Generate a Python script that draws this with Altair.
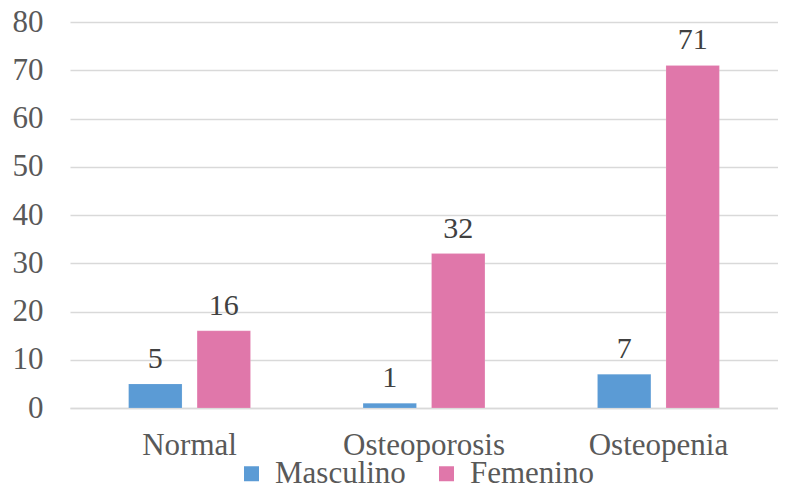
import altair as alt
import pandas as pd

categories = ["Normal", "Osteoporosis", "Osteopenia"]
series = ["Masculino", "Femenino"]
masculino = [5, 1, 7]
femenino = [16, 32, 71]
colors = ["#5B9BD5", "#E077AA"]

rows = []
for i, c in enumerate(categories):
    rows.append({"cat": c, "sexo": "Masculino", "val": masculino[i]})
    rows.append({"cat": c, "sexo": "Femenino", "val": femenino[i]})
df = pd.DataFrame(rows)

FONT = "Liberation Serif"

x = alt.X("cat:N", sort=categories, title=None,
          scale=alt.Scale(paddingInner=0.48, paddingOuter=0.25),
          axis=alt.Axis(labelAngle=0, labelFont=FONT, labelFontSize=31, labelColor="#595959",
                        domainColor="#D9D9D9", domainWidth=1.5, ticks=False, labelPadding=22))
xo = alt.XOffset("sexo:N", sort=series, scale=alt.Scale(paddingInner=0.22))

base = alt.Chart(df).encode(x=x, xOffset=xo)

bars = base.mark_bar(stroke="white", strokeOpacity=0.3, strokeWidth=0.5).encode(
    y=alt.Y("val:Q", title=None,
            scale=alt.Scale(domain=[0, 80]),
            axis=alt.Axis(values=list(range(0, 81, 10)), labelFont=FONT, labelFontSize=31,
                          labelColor="#595959", domain=False, ticks=False, labelPadding=27,
                          gridColor="#D9D9D9", gridWidth=1.5)),
    color=alt.Color("sexo:N", sort=series,
                    scale=alt.Scale(domain=series, range=colors),
                    legend=alt.Legend(title=None, orient="none", direction="horizontal",
                                      legendX=166, legendY=436,
                                      symbolType="square", symbolSize=225, symbolStrokeWidth=0,
                                      labelFont=FONT, labelFontSize=31, labelColor="#595959",
                                      columnPadding=25, symbolOffset=0, labelOffset=8)),
)

labels = base.mark_text(baseline="bottom", dy=-10, font=FONT, fontSize=30, color="#404040").encode(
    y="val:Q", text="val:Q")

chart = (bars + labels).properties(
    width=708, height=386,
    autosize=alt.AutoSizeParams(type="none"),
    padding={"left": 62, "top": 14, "right": 0, "bottom": 79},
).configure_view(stroke=None)

chart.save("out.html", embed_options={"renderer": "svg", "actions": False})
